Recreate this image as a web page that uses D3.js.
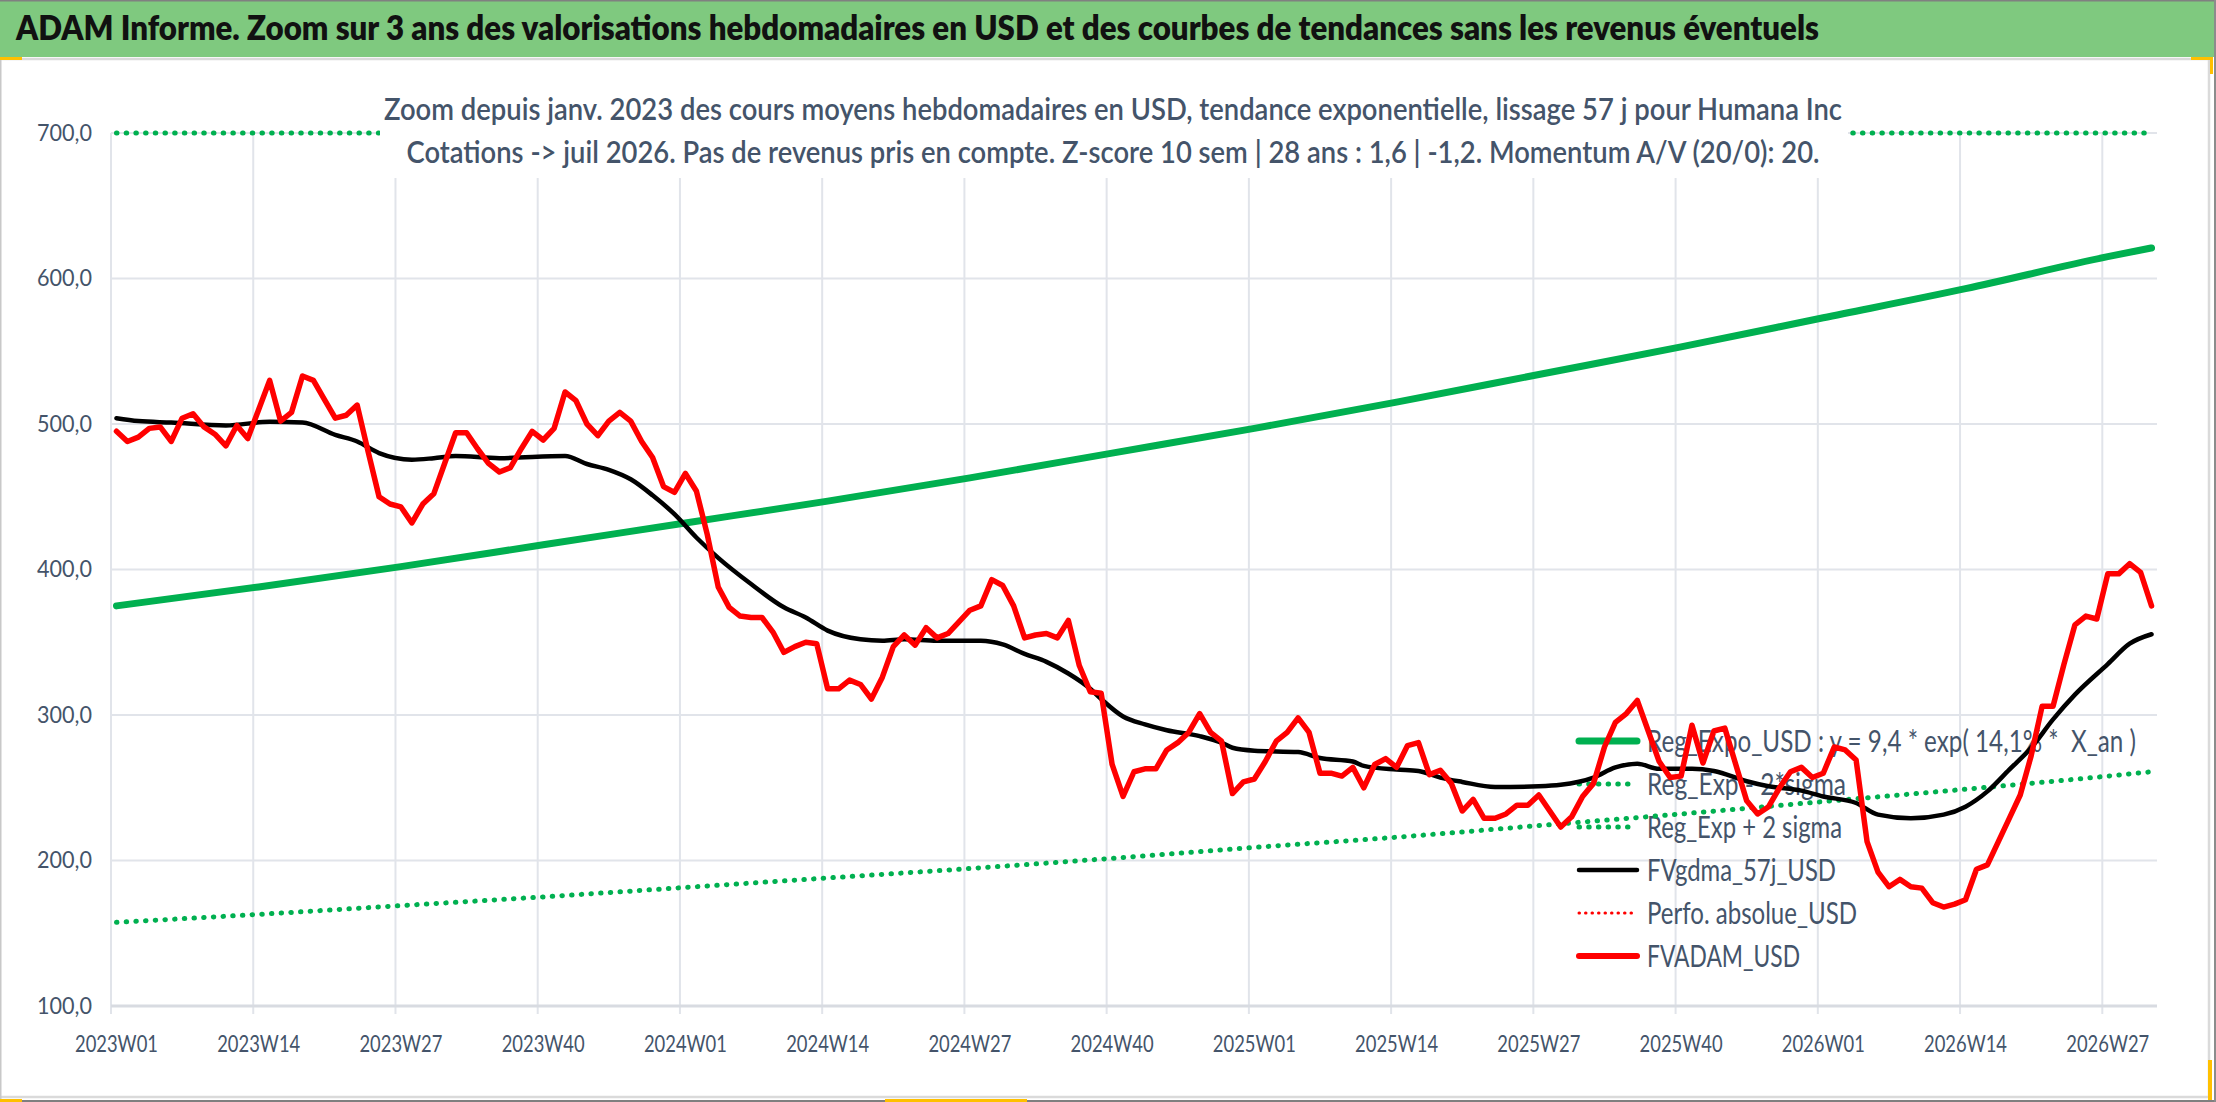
<!DOCTYPE html>
<html>
<head>
<meta charset="utf-8">
<script src="https://cdn.jsdelivr.net/npm/d3@7"></script>
<style>
  body { margin: 0; background: #fff; }
</style>
</head>
<body>
<div id="chart"></div>
<script>
// weekly valuation chart, Humana Inc, 2023W01 -> 2026W31

// ---- data ----
const tickLabels = ["2023W01", "2023W14", "2023W27", "2023W40", "2024W01", "2024W14", "2024W27",
  "2024W40", "2025W01", "2025W14", "2025W27", "2025W40", "2026W01", "2026W14", "2026W27"];
const yTicks = [100, 200, 300, 400, 500, 600, 700];

// FVADAM_USD, one value per week from 2023W01
const fvadam = [
  495, 488, 491, 497, 498, 488, 504, 507, 498, 493, 485, 499, 490, 510, 530, 502, 508, 533, 530, 517,
  504, 506, 513, 481, 450, 445, 443, 432, 445, 452, 473, 494, 494, 483, 473, 467, 470, 483, 495, 489,
  497, 522, 516, 500, 492, 502, 508, 502, 488, 477, 457, 453, 466, 454, 424, 388, 374, 368, 367, 367,
  357, 343, 347, 350, 349, 318, 318, 324, 321, 311, 326, 347, 355, 348, 360, 353, 356, 364, 372, 375,
  393, 389, 375, 353, 355, 356, 353, 365, 334, 316, 315, 266, 244, 261, 263, 263, 276, 281, 288, 301,
  288, 282, 246, 254, 256, 268, 282, 288, 298, 288, 260, 260, 258, 264, 250, 266, 270, 264, 279, 281,
  259, 262, 253, 234, 242, 229, 229, 232, 238, 238, 245, 234, 223, 230, 244, 253, 278, 295, 301, 310,
  289, 268, 257, 258, 293, 267, 289, 291, 266, 241, 232, 237, 250, 261, 264, 257, 260, 278, 276, 269,
  213, 192, 182, 187, 182, 181, 171, 168, 170, 173, 194, 197, 213, 229, 245, 272, 306, 306, 335, 362,
  368, 366, 397, 397, 404, 398, 375
];

// FVgdma_57j_USD (smoothed), read at these week indexes
const gdmaAt = [0, 2, 5, 10, 14, 17, 20, 22, 24, 27, 29, 31, 35, 41, 43, 45, 47, 49, 51, 53, 55, 58, 61, 63,
  65, 68, 70, 72, 75, 79, 81, 83, 85, 87, 89, 90, 92, 94, 96, 99, 101, 102, 104, 108, 110, 113, 114, 117,
  119, 121, 123, 126, 130, 132, 135, 137, 139, 141, 144, 146, 149, 151, 154, 156, 159, 161, 164, 167,
  169, 171, 173, 175, 177, 179, 182, 184, 186];
const gdmaVal = [504, 502, 501, 499, 501.5, 501, 492.5, 488, 480, 475.5, 476.5, 478, 476.5, 478, 472.5,
  468.5, 462, 451, 438, 422, 408, 390, 374, 367, 358, 352, 351, 352, 351, 351, 348.5, 342, 336.5, 328.5,
  318, 311, 299, 293.5, 289.5, 285.5, 281, 277.5, 275.5, 274.5, 270.5, 268, 265, 262.5, 261.5, 257, 254,
  250.5, 251, 252, 257, 264, 266.5, 263, 263, 261.5, 254.5, 251, 248, 244, 239.5, 231.5, 229, 231.5,
  237, 247.5, 262.5, 277.5, 297, 314, 335, 349, 355.5];

// exponential trend and bands, read every 13 weeks
const regAt = [0, 13, 26, 39, 52, 65, 78, 91, 104, 117, 130, 143, 156, 169, 182, 186];
const regExpo = [375, 388, 402, 417, 432, 447, 463, 480, 497, 515, 534, 553, 573, 593, 615, 621];
const regLow = [157.5, 163, 169, 175, 181.5, 188, 194.5, 201.5, 209, 216, 224, 232, 240.5, 249, 258, 261];
const regHigh = [893, 924, 957, 992, 1028, 1064, 1102, 1142, 1183, 1226, 1270, 1316, 1363, 1412, 1463, 1478];

const legendNames = [
  "Reg_Expo_USD : y = 9,4 * exp( 14,1% *  X_an )",
  "Reg_Exp - 2*sigma",
  "Reg_Exp + 2 sigma",
  "FVgdma_57j_USD",
  "Perfo. absolue_USD",
  "FVADAM_USD"
];
const legendKinds = ["reg", "band", "band", "gdma", "perfo", "adam"];

const mainTitle = "ADAM Informe. Zoom sur 3 ans des valorisations hebdomadaires en USD et des courbes de tendances sans les revenus éventuels";
const subTitle1 = "Zoom depuis janv. 2023 des cours moyens hebdomadaires en USD, tendance exponentielle, lissage 57 j pour Humana Inc";
const subTitle2 = "Cotations -> juil 2026. Pas de revenus pris en compte. Z-score 10 sem | 28 ans : 1,6 | -1,2. Momentum A/V (20/0): 20.";

// week categories 2023W01 .. 2026W31
const weeks = [];
[[2023, 52], [2024, 52], [2025, 52], [2026, 31]].forEach(([yr, n]) => {
  for (let w = 1; w <= n; w++) weeks.push(`${yr}W${String(w).padStart(2, "0")}`);
});

// ---- layout ----
const W = 2216, H = 1102;
const plot = { left: 111, right: 2157, top: 133, bottom: 1006 };
const textCol = "#44546A";
const gridCol = "#E1E4EA";
const legendWidths = [489, 199, 195, 189, 210, 153]; // rendered text widths

const svg = d3.select("#chart").append("svg")
  .attr("width", W).attr("height", H)
  .style("font-family", "Lato, 'Open Sans', sans-serif");

const x = d3.scaleBand().domain(weeks).range([plot.left, plot.right]).padding(0);
const y = d3.scaleLinear().domain([100, 700]).range([plot.bottom, plot.top]).clamp(true);
const cx = i => x(weeks[i]) + x.bandwidth() / 2;

// squeeze text horizontally so it takes a given width
function fitWidth(node, w) {
  node.setAttribute("textLength", w);
  node.setAttribute("lengthAdjust", "spacingAndGlyphs");
}
function squeeze(sel, ratio) {
  sel.each(function () { fitWidth(this, this.getComputedTextLength() * ratio); });
}

// ---- frame ----
svg.append("rect").attr("x", 0).attr("y", 0).attr("width", W).attr("height", 57).attr("fill", "#7FC97F");
svg.append("line").attr("x1", 0).attr("x2", W).attr("y1", 0.75).attr("y2", 0.75).attr("stroke", "#808080").attr("stroke-width", 1.5);
svg.append("line").attr("x1", 0).attr("x2", 2209).attr("y1", 59).attr("y2", 59).attr("stroke", "#DADADA").attr("stroke-width", 2.5);
svg.append("line").attr("x1", 2209).attr("x2", 2209).attr("y1", 59).attr("y2", 1097).attr("stroke", "#DADADA").attr("stroke-width", 2.5);
svg.append("line").attr("x1", 0).attr("x2", 2209).attr("y1", 1097).attr("y2", 1097).attr("stroke", "#DADADA").attr("stroke-width", 2.5);
svg.append("line").attr("x1", 0).attr("x2", W).attr("y1", 1101).attr("y2", 1101).attr("stroke", "#7F7F7F").attr("stroke-width", 2);
svg.append("line").attr("x1", 2215).attr("x2", 2215).attr("y1", 0).attr("y2", H).attr("stroke", "#8C8C8C").attr("stroke-width", 2);
svg.append("line").attr("x1", 0.75).attr("x2", 0.75).attr("y1", 57).attr("y2", H).attr("stroke", "#C8C8C8").attr("stroke-width", 1.5);

// selection handles (yellow)
const handles = [[0, 57, 22, 3], [2191, 57, 22, 3], [2210, 57, 3, 17], [2208, 1060, 4, 40], [885, 1099, 142, 3], [0, 1099, 22, 3]];
svg.append("g").selectAll("rect").data(handles).join("rect")
  .attr("x", d => d[0]).attr("y", d => d[1]).attr("width", d => d[2]).attr("height", d => d[3])
  .attr("fill", "#FFC000");

const title = svg.append("text")
  .attr("x", 16).attr("y", 40)
  .attr("fill", "#111").attr("font-size", 34).attr("font-weight", 800)
  .text(mainTitle);
fitWidth(title.node(), 1803);

// ---- grid ----
const grid = svg.append("g");
grid.selectAll("line.h").data(yTicks.filter(v => v > 100)).join("line")
  .attr("class", "h")
  .attr("x1", plot.left).attr("x2", plot.right)
  .attr("y1", d => y(d)).attr("y2", d => y(d))
  .attr("stroke", gridCol).attr("stroke-width", 2);
grid.selectAll("line.v").data(tickLabels).join("line")
  .attr("class", "v")
  .attr("x1", d => x(d)).attr("x2", d => x(d))
  .attr("y1", plot.top).attr("y2", plot.bottom + 8)
  .attr("stroke", gridCol).attr("stroke-width", 2);
grid.append("line")
  .attr("x1", plot.left).attr("x2", plot.right)
  .attr("y1", y(100)).attr("y2", y(100))
  .attr("stroke", "#D8DBE1").attr("stroke-width", 3);

// ---- axes ----
const xAxis = svg.append("g")
  .attr("transform", `translate(0,${plot.bottom})`)
  .call(d3.axisBottom(x).tickValues(tickLabels).tickSize(0).tickPadding(30));
xAxis.select(".domain").remove();
xAxis.selectAll("text").attr("fill", textCol).attr("font-size", 23).style("font-family", "Lato, sans-serif");

const yAxis = svg.append("g")
  .attr("transform", `translate(${plot.left},0)`)
  .call(d3.axisLeft(y).tickValues(yTicks).tickSize(0).tickPadding(19)
    .tickFormat(d => d3.format(".1f")(d).replace(".", ",")));
yAxis.select(".domain").remove();
yAxis.selectAll("text").attr("fill", textCol).attr("font-size", 23).style("font-family", "Lato, sans-serif");

squeeze(xAxis.selectAll("text"), 83 / xAxis.select("text").node().getComputedTextLength());
squeeze(yAxis.selectAll("text"), 55 / yAxis.select("text").node().getComputedTextLength());

// ---- legend (drawn under the series, like the original) ----
const styles = {
  reg: { stroke: "#00B050", width: 7, dash: null },
  band: { stroke: "#00B050", width: 5, dash: "0.5 9.2" },
  gdma: { stroke: "#000000", width: 4.5, dash: null },
  perfo: { stroke: "#FF0000", width: 3, dash: "0.5 6" },
  adam: { stroke: "#FF0000", width: 6, dash: null }
};
const legend = svg.append("g");
const rows = legend.selectAll("g").data(legendNames).join("g")
  .attr("transform", (d, i) => `translate(1577,${741 + i * 43})`);
rows.append("line")
  .attr("x1", 2).attr("x2", 60)
  .attr("stroke", (d, i) => styles[legendKinds[i]].stroke)
  .attr("stroke-width", (d, i) => styles[legendKinds[i]].width)
  .attr("stroke-dasharray", (d, i) => styles[legendKinds[i]].dash)
  .attr("stroke-linecap", "round");
rows.append("text")
  .attr("x", 70).attr("dy", "0.35em")
  .attr("fill", textCol).attr("font-size", 30)
  .style("white-space", "pre")
  .text(d => d)
  .each(function (d, i) { fitWidth(this, legendWidths[i]); });

// ---- series ----
const line = d3.line().x(d => cx(d[0])).y(d => y(d[1])).curve(d3.curveMonotoneX);
const series = svg.append("g").attr("fill", "none").attr("stroke-linejoin", "round");

const zip = (at, vals) => at.map((a, i) => [a, vals[i]]);

series.append("path").datum(zip(regAt, regHigh)).attr("d", line)
  .attr("stroke", "#00B050").attr("stroke-width", 5)
  .attr("stroke-dasharray", "0.5 9.2").attr("stroke-linecap", "round");
series.append("path").datum(zip(regAt, regLow)).attr("d", line)
  .attr("stroke", "#00B050").attr("stroke-width", 5)
  .attr("stroke-dasharray", "0.5 9.2").attr("stroke-linecap", "round");
series.append("path").datum(zip(regAt, regExpo)).attr("d", line)
  .attr("stroke", "#00B050").attr("stroke-width", 7).attr("stroke-linecap", "round");
series.append("path").datum(zip(gdmaAt, gdmaVal)).attr("d", line)
  .attr("stroke", "#000000").attr("stroke-width", 4.5).attr("stroke-linecap", "round");
series.append("path").datum(fvadam.map((v, i) => [i, v]))
  .attr("d", d3.line().x(d => cx(d[0])).y(d => y(d[1])))
  .attr("stroke", "#FF0000").attr("stroke-width", 5.5).attr("stroke-linecap", "round");

// ---- chart title block (white box over the plot) ----
svg.append("rect").attr("x", 380).attr("y", 62).attr("width", 1468).attr("height", 116).attr("fill", "#fff");
const st1 = svg.append("text").attr("x", 1113).attr("y", 120).attr("text-anchor", "middle")
  .attr("fill", textCol).attr("font-size", 31).attr("font-weight", 600).text(subTitle1);
fitWidth(st1.node(), 1458);
const st2 = svg.append("text").attr("x", 1113).attr("y", 163).attr("text-anchor", "middle")
  .attr("fill", textCol).attr("font-size", 31).attr("font-weight", 600).text(subTitle2);
fitWidth(st2.node(), 1413);
</script>
</body>
</html>
